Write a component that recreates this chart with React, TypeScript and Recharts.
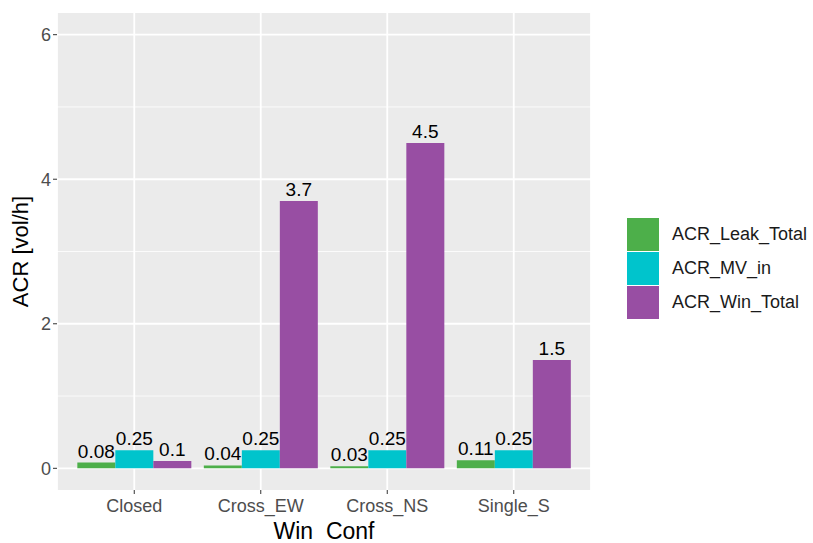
import { BarChart, Bar, XAxis, YAxis, CartesianGrid, LabelList, Label } from 'recharts';

const categories = ['Closed', 'Cross_EW', 'Cross_NS', 'Single_S'];
const leakTotal = [0.08, 0.04, 0.03, 0.11];
const mvIn = [0.25, 0.25, 0.25, 0.25];
const winTotal = [0.1, 3.7, 4.5, 1.5];
const yTicks = [0, 2, 4, 6];
const minorTicks = [1, 3, 5];

const series = [
  { key: 'ACR_Leak_Total', color: '#4DAF4A' },
  { key: 'ACR_MV_in', color: '#00C4CC' },
  { key: 'ACR_Win_Total', color: '#984EA3' },
];

const data = categories.map((c, i) => ({
  conf: c,
  ACR_Leak_Total: leakTotal[i],
  ACR_MV_in: mvIn[i],
  ACR_Win_Total: winTotal[i],
}));

const font = '"Liberation Sans", Arial, sans-serif';

const LegendBox = () => (
  <div style={{ position: 'absolute', left: 627, top: 217, fontFamily: font }}>
    {series.map((s) => (
      <div key={s.key} style={{ display: 'flex', alignItems: 'center', height: 34 }}>
        <div style={{ width: 32, height: 33, background: s.color, marginRight: 13 }} />
        <span style={{ fontSize: 18, color: '#1a1a1a' }}>{s.key}</span>
      </div>
    ))}
  </div>
);

export default function App() {
  return (
    <div style={{ position: 'absolute', left: 0, top: 0, width: 813, height: 543, background: '#fff' }}>
      <BarChart
        width={813}
        height={543}
        data={data}
        margin={{ top: 13, right: 222, left: 0, bottom: 0 }}
        barCategoryGap="5%"
        barGap={0}
      >
        <CartesianGrid
          fill="#EBEBEB"
          stroke="#fff"
          strokeWidth={0.8}
          vertical={false}
          horizontalValues={minorTicks}
        />
        <CartesianGrid stroke="#fff" strokeWidth={1.8} horizontalValues={yTicks} />
        <XAxis
          dataKey="conf"
          height={53}
          padding={{ left: 14, right: 14 }}
          axisLine={false}
          tickLine={{ stroke: '#333' }}
          tickSize={4}
          tick={{ fill: '#4D4D4D', fontSize: 18, fontFamily: font, dy: 3 }}
          interval={0}
        >
          <Label
            value={'Win\u00A0 Conf'}
            position="insideBottom"
            offset={4}
            style={{ fill: '#000', fontSize: 23, fontFamily: font }}
          />
        </XAxis>
        <YAxis
          width={57}
          domain={[-0.3, 6.3]}
          ticks={yTicks}
          axisLine={false}
          tickLine={{ stroke: '#333' }}
          tickSize={4}
          tick={{ fill: '#4D4D4D', fontSize: 18, fontFamily: font }}
        >
          <Label
            value="ACR [vol/h]"
            angle={-90}
            position="insideLeft"
            offset={20}
            style={{ fill: '#000', fontSize: 22, fontFamily: font, textAnchor: 'middle' }}
          />
        </YAxis>
        {series.map((s) => (
          <Bar key={s.key} dataKey={s.key} fill={s.color} isAnimationActive={false}>
            <LabelList
              dataKey={s.key}
              position="top"
              offset={5}
              style={{ fill: '#000', fontSize: 19, fontFamily: font }}
            />
          </Bar>
        ))}
      </BarChart>
      <LegendBox />
    </div>
  );
}
